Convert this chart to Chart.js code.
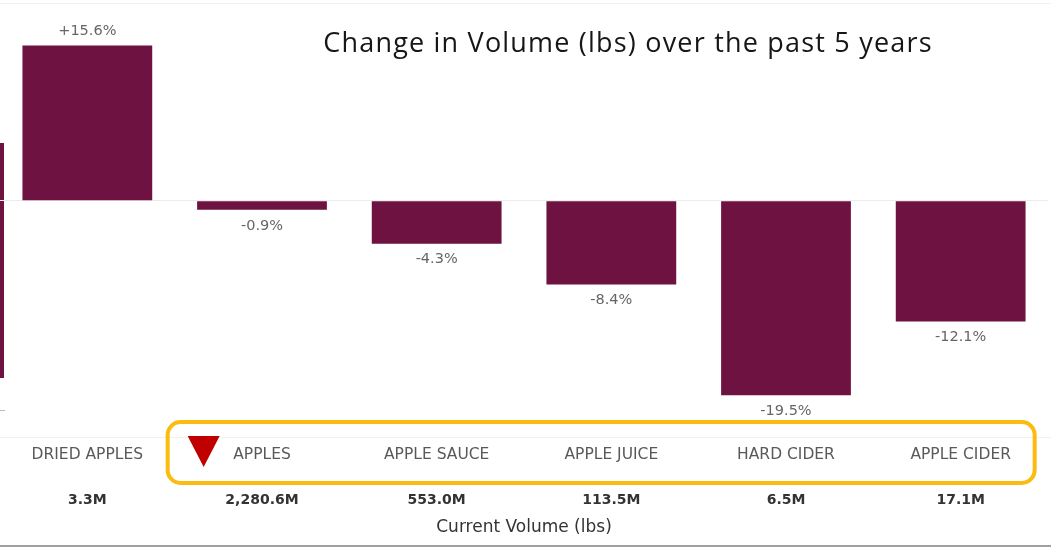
<!DOCTYPE html>
<html>
<head>
<meta charset="utf-8">
<script src="https://cdn.jsdelivr.net/npm/chart.js@4.4.1/dist/chart.umd.min.js"></script>
<style>
  html, body { margin: 0; padding: 0; background: #fff; }
  #wrap { position: relative; width: 1051px; height: 548px; }
</style>
</head>
<body>
<div id="wrap"><canvas id="c" width="1051" height="548"></canvas></div>
<script>
const categories = ["DRIED APPLES", "APPLES", "APPLE SAUCE", "APPLE JUICE", "HARD CIDER", "APPLE CIDER"];
const changePct = [15.6, -0.9, -4.3, -8.4, -19.5, -12.1];
const currentVolume = ["3.3M", "2,280.6M", "553.0M", "113.5M", "6.5M", "17.1M"];
const chartTitle = "Change in Volume (lbs) over the past 5 years";
const volumeTitle = "Current Volume (lbs)";

const MAROON = "#6d1241";

const decorPlugin = {
  id: "decor",
  beforeDraw(chart) {
    const ctx = chart.ctx;
    ctx.save();
    ctx.fillStyle = "#f2f2f2";
    ctx.fillRect(0, 3, chart.width, 1);
    ctx.fillStyle = "#f0f0f0";
    ctx.fillRect(0, chart.chartArea.bottom, chart.width, 1);
    ctx.fillStyle = "#a0a0a0";
    ctx.fillRect(0, 545, chart.width, 2);
    ctx.fillStyle = MAROON;
    ctx.fillRect(0, 143, 4, 235);
    ctx.fillStyle = "#bdbdbd";
    ctx.fillRect(0, 410, 5, 1);
    ctx.restore();
  },
  afterDraw(chart) {
    const ctx = chart.ctx;
    const meta = chart.getDatasetMeta(0);
    ctx.save();
    ctx.font = "14.5px 'DejaVu Sans', sans-serif";
    ctx.fillStyle = "#666";
    ctx.textAlign = "center";
    ctx.textBaseline = "middle";
    meta.data.forEach((bar, i) => {
      const v = changePct[i];
      const txt = (v > 0 ? "+" : "") + v.toFixed(1) + "%";
      const y = v >= 0 ? bar.y - 14 : bar.y + 16;
      ctx.fillText(txt, bar.x, y);
    });
    ctx.font = "27px 'Open Sans', sans-serif";
    ctx.letterSpacing = "1.2px";
    ctx.fillStyle = "#161616";
    ctx.fillText(chartTitle, 628, 44);
    ctx.letterSpacing = "0px";
    const xs = chart.scales.x;
    const left = (xs.getPixelForValue(0) + xs.getPixelForValue(1)) / 2 - 7;
    const right = xs.getPixelForValue(5) + 74;
    const top = 422, bottom = 483, r = 13;
    ctx.strokeStyle = "#fbbb10";
    ctx.lineWidth = 4;
    ctx.beginPath();
    ctx.roundRect(left, top, right - left, bottom - top, r);
    ctx.stroke();
    const tx = left + 36;
    ctx.fillStyle = "#c00000";
    ctx.beginPath();
    ctx.moveTo(tx - 16, 436);
    ctx.lineTo(tx + 16, 436);
    ctx.lineTo(tx, 467);
    ctx.closePath();
    ctx.fill();
    ctx.restore();
  }
};

new Chart(document.getElementById("c"), {
  type: "bar",
  data: {
    labels: categories,
    datasets: [{
      data: changePct,
      backgroundColor: MAROON,
      borderWidth: 0,
      barPercentage: 0.743,
      categoryPercentage: 1.0
    }]
  },
  options: {
    responsive: false,
    animation: false,
    devicePixelRatio: 1,
    layout: { padding: { left: -2, right: 3, top: 20, bottom: 0 } },
    plugins: {
      legend: { display: false },
      tooltip: { enabled: false },
      title: { display: false }
    },
    scales: {
      y: {
        min: -23.7,
        max: 18.15,
        ticks: { display: false, stepSize: 5 },
        border: { display: false },
        grid: {
          drawTicks: false,
          color: (c) => (c.tick && c.tick.value === 0 ? "#ececec" : "rgba(0,0,0,0)")
        },
        afterFit: (s) => { s.width = 0; }
      },
      x: {
        type: "category",
        position: "bottom",
        weight: 0,
        grid: { display: false, drawTicks: false },
        border: { display: false },
        ticks: {
          padding: 9,
          maxRotation: 0,
          autoSkip: false,
          color: "#595959",
          font: { family: "'DejaVu Sans', sans-serif", size: 15.5 }
        },
        afterFit: (s) => { s.height = 40; }
      },
      x2: {
        type: "category",
        position: "bottom",
        weight: 1,
        labels: currentVolume,
        grid: { display: false, drawTicks: false },
        border: { display: false },
        ticks: {
          padding: 15,
          maxRotation: 0,
          autoSkip: false,
          color: "#333",
          font: { family: "'DejaVu Sans', sans-serif", size: 14, weight: "bold" }
        },
        title: {
          display: true,
          text: volumeTitle,
          color: "#333",
          font: { family: "'DejaVu Sans', sans-serif", size: 17 },
          padding: { top: 4, bottom: 10 }
        },
        afterFit: (s) => { s.height = 71; }
      }
    }
  },
  plugins: [decorPlugin]
});
</script>
</body>
</html>
